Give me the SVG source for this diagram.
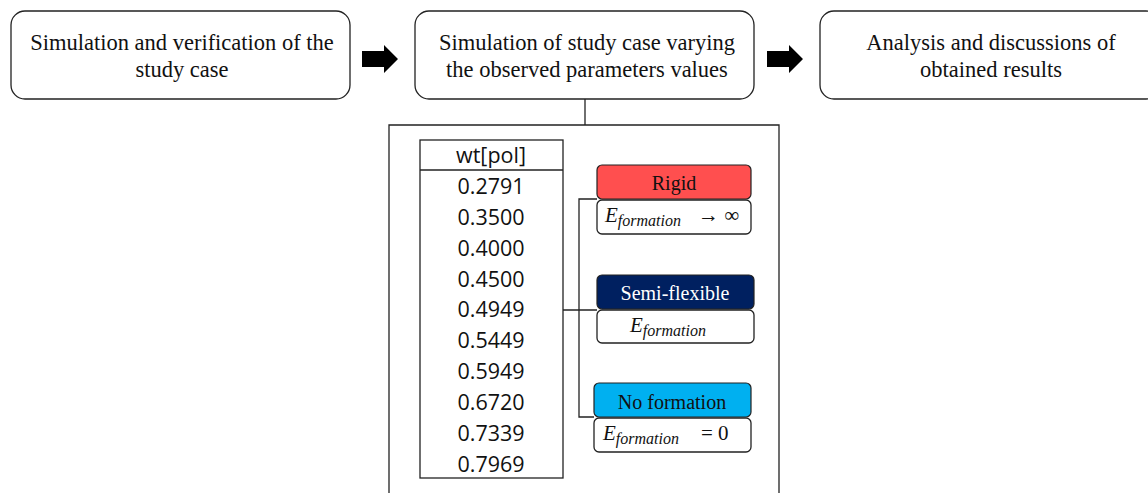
<svg xmlns="http://www.w3.org/2000/svg" width="1148" height="493" viewBox="0 0 1148 493">
<style>
.box{fill:#fff;stroke:#222;stroke-width:1.3}
.t{font-family:"Liberation Serif",serif;font-size:22.5px;fill:#111;text-anchor:middle}
.tb{font-family:"Open Sans","Liberation Sans",sans-serif;font-size:21.5px;fill:#111;text-anchor:middle}
.ln{fill:none;stroke:#222;stroke-width:1.3}
.m{font-family:"Liberation Serif",serif;font-size:21px;fill:#111}
.mi{font-style:italic}
.lab{font-family:"Liberation Serif",serif;font-size:20px;text-anchor:middle}
</style>
<defs>
<path id="arr" d="M0,6 H22 V0 L36,14 L22,28 V22 H0 Z" fill="#000"/>
</defs>
<rect width="1148" height="493" fill="#fff"/>
<g id="connectors">
<use href="#arr" x="362" y="45"/>
<use href="#arr" x="767" y="45"/>
<path class="ln" d="M585,99 V125"/>
<path class="ln" d="M389,493 V125 H779 V493"/>
<path class="ln" d="M597,199 H579 V417 H594"/>
<path class="ln" d="M563,310 H597"/>
</g>
<g id="step1">
<rect class="box" x="11" y="11" width="339" height="88" rx="14"/>
<text class="t" x="182" y="50">Simulation and verification of the</text>
<text class="t" x="182" y="77">study case</text>
</g>
<g id="step2">
<rect class="box" x="415" y="11" width="339" height="88" rx="14"/>
<text class="t" x="587" y="50">Simulation of study case varying</text>
<text class="t" x="587" y="77">the observed parameters values</text>
</g>
<g id="step3">
<rect class="box" x="820" y="11" width="340" height="88" rx="14"/>
<text class="t" x="991" y="50">Analysis and discussions of</text>
<text class="t" x="991" y="77">obtained results</text>
</g>
<g id="table">
<rect x="420" y="140" width="143" height="338" fill="#fff" stroke="#222" stroke-width="1.3"/>
<path class="ln" d="M420,170 H563"/>
<text class="tb" x="491" y="163">wt[pol]</text>
<text class="tb" x="491" y="194">0.2791</text>
<text class="tb" x="491" y="225">0.3500</text>
<text class="tb" x="491" y="256">0.4000</text>
<text class="tb" x="491" y="287">0.4500</text>
<text class="tb" x="491" y="317">0.4949</text>
<text class="tb" x="491" y="348">0.5449</text>
<text class="tb" x="491" y="379">0.5949</text>
<text class="tb" x="491" y="410">0.6720</text>
<text class="tb" x="491" y="441">0.7339</text>
<text class="tb" x="491" y="472">0.7969</text>
</g>
<g id="rigid">
<rect x="597" y="165" width="154" height="34" rx="5" fill="#FF4F4F" stroke="#222" stroke-width="1.2"/>
<text class="lab" x="674" y="190" fill="#111">Rigid</text>
<rect class="box" x="597" y="200" width="154" height="34" rx="5"/>
<text class="m" x="605" y="222"><tspan class="mi">E</tspan><tspan class="mi" font-size="16" dy="4">formation</tspan><tspan dy="-4" dx="17">→ ∞</tspan></text>
</g>
<g id="semiflexible">
<rect x="597" y="275" width="157" height="34" rx="5" fill="#002060" stroke="#222" stroke-width="1.2"/>
<text class="lab" x="675" y="300" fill="#fff">Semi-flexible</text>
<rect class="box" x="597" y="310" width="157" height="33" rx="5"/>
<text class="m" x="630" y="332"><tspan class="mi">E</tspan><tspan class="mi" font-size="16" dy="4">formation</tspan></text>
</g>
<g id="noformation">
<rect x="594" y="383" width="157" height="34" rx="5" fill="#00B0F0" stroke="#222" stroke-width="1.2"/>
<text class="lab" x="672" y="409" fill="#111">No formation</text>
<rect class="box" x="594" y="418" width="157" height="34" rx="5"/>
<text class="m" x="603" y="440"><tspan class="mi">E</tspan><tspan class="mi" font-size="16" dy="4">formation</tspan><tspan dy="-4" dx="22">= 0</tspan></text>
</g>
</svg>
